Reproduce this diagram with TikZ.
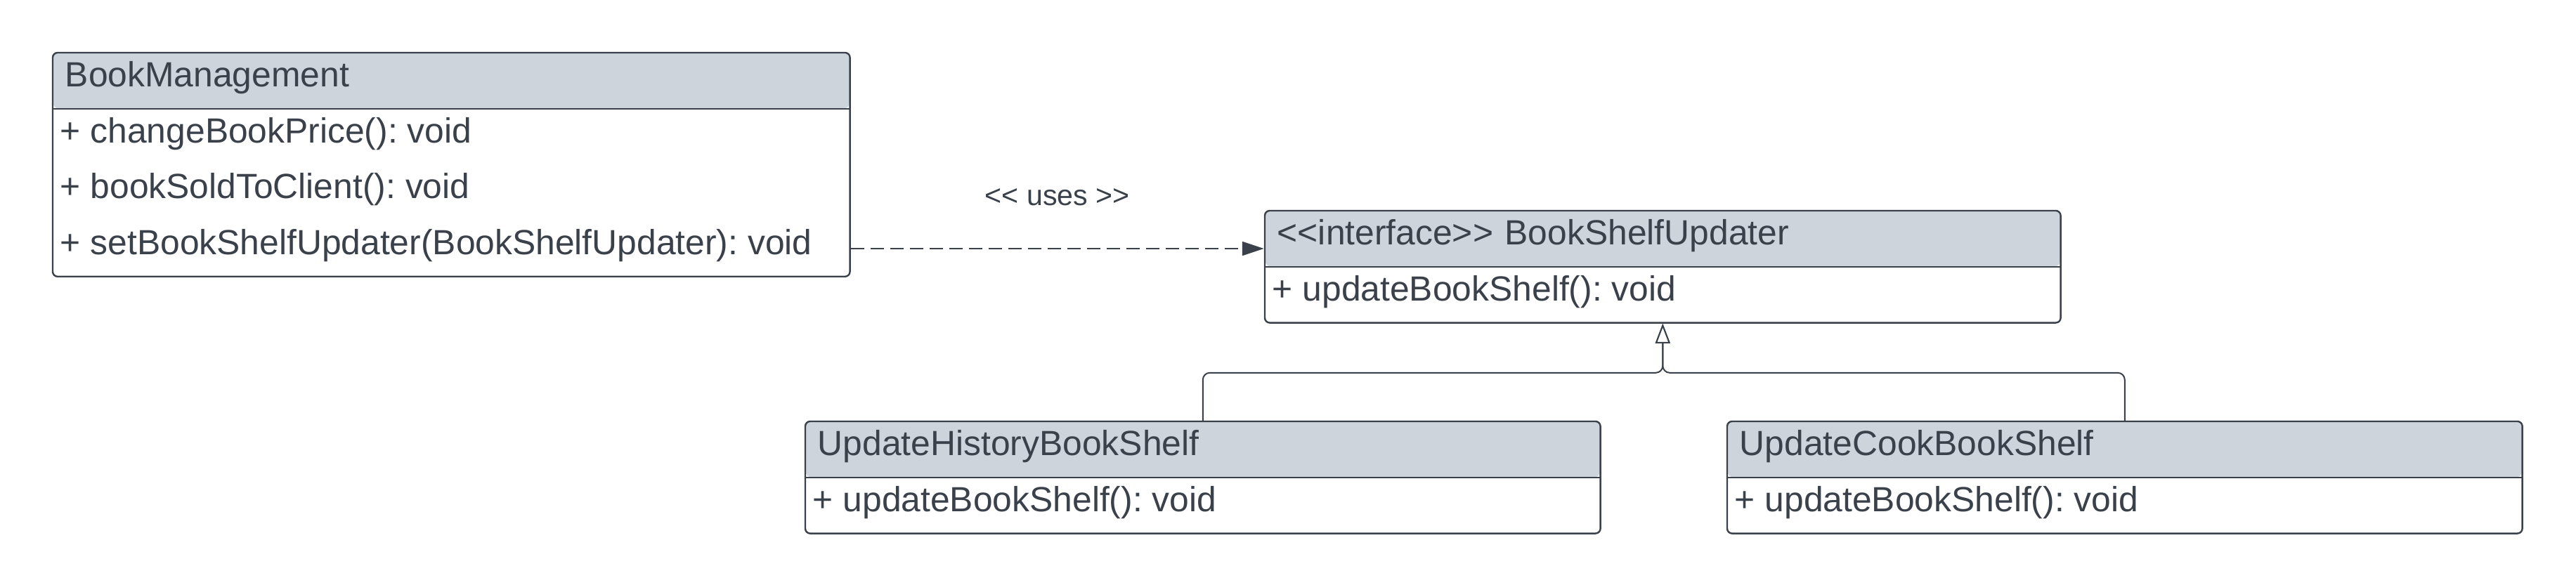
\documentclass[tikz,border=0pt]{standalone}
\usepackage{fontspec}
\setmainfont{Liberation Sans}
\usepackage{tikz}
\usetikzlibrary{positioning}
\usetikzlibrary{fit}
\usetikzlibrary{arrows.meta}
\definecolor{umltext}{HTML}{3A414A}
\definecolor{umlhead}{HTML}{CED4DB}
\newcommand{\lt}{\textless\kern0pt\textless}
\newcommand{\gt}{\textgreater\kern0pt\textgreater}
\tikzset{
    classhead/.style={
        anchor=north west,
        fill=umlhead,
        rounded corners=1.75pt,
        text=umltext,
        font=\fontsize{12.45}{14}\selectfont,
        text width=#1,
        align=left,
        text height=12pt,
        text depth=7.6pt,
        inner xsep=4.25pt,
        inner ysep=0pt
    },
    classrow/.style={
        anchor=north west,
        text=umltext,
        font=\fontsize{12.45}{14}\selectfont,
        text height=11.9pt,
        text depth=7.6pt,
        inner xsep=2.5pt,
        inner ysep=0pt
    },
    classframe/.style={
        draw=umltext,
        line width=0.6pt,
        rounded corners=1.75pt,
        inner sep=0pt
    },
    classline/.style={
        draw=umltext,
        line width=0.6pt
    }
}

\begin{document}
\frenchspacing
\begin{tikzpicture}
[
    uses/.style={
        draw=umltext,
        line width=0.5pt,
        dash pattern=on 4.75pt off 2.25pt,
        -{Triangle[length=7.75pt,width=5pt]}
    },
    realize/.style={
        draw=umltext,
        line width=0.5pt,
        rounded corners=2.5pt,
        -{Triangle[open,fill=white,length=7pt,width=5.2pt]}
    },
    stereo/.style={
        text=umltext,
        font=\fontsize{10.3}{12}\selectfont,
        inner sep=0pt,
        text depth=0pt
    }
]
\useasboundingbox (0,0) rectangle (916.5pt,-208.25pt);

\node[classhead=274.75pt] (bm) at (18.75pt,-18.75pt) {BookManagement};
\node[classrow] (bm1) at (bm.south west) {+ changeBookPrice(): void};
\node[classrow] (bm2) at (bm1.south west) {+ bookSoldToClient(): void};
\node[classrow] (bm3) at (bm2.south west) {+ setBookShelfUpdater(BookShelfUpdater): void};
\node[classframe, fit=(bm)(bm1)(bm2)(bm3)] (bmbox) {};
\draw[classline] (bm.south west) -- (bm.south east);

\node[classhead=274.25pt] (bs) at (450pt,-75pt) {\lt interface\gt{} BookShelfUpdater};
\node[classrow] (bs1) at (bs.south west) {+ updateBookShelf(): void};
\node[classframe, fit=(bs)(bs1)] (bsbox) {};
\draw[classline] (bs.south west) -- (bs.south east);

\node[classhead=274pt] (uh) at (286.5pt,-150pt) {UpdateHistoryBookShelf};
\node[classrow] (uh1) at (uh.south west) {+ updateBookShelf(): void};
\node[classframe, fit=(uh)(uh1)] (uhbox) {};
\draw[classline] (uh.south west) -- (uh.south east);

\node[classhead=274pt] (uc) at (614.5pt,-150pt) {UpdateCookBookShelf};
\node[classrow] (uc1) at (uc.south west) {+ updateBookShelf(): void};
\node[classframe, fit=(uc)(uc1)] (ucbox) {};
\draw[classline] (uc.south west) -- (uc.south east);

\draw[uses] (bm3.east -| bmbox.east) -- (bm3.east -| bsbox.west)
    node[stereo, midway, above=15pt] {\lt{} uses \gt};

\coordinate[below=17.5pt of bsbox.south] (split);
\draw[realize] (uhbox.north) |- (split) -- (bsbox.south);
\draw[realize] (ucbox.north) |- (split) -- (bsbox.south);
\end{tikzpicture}
\end{document}
